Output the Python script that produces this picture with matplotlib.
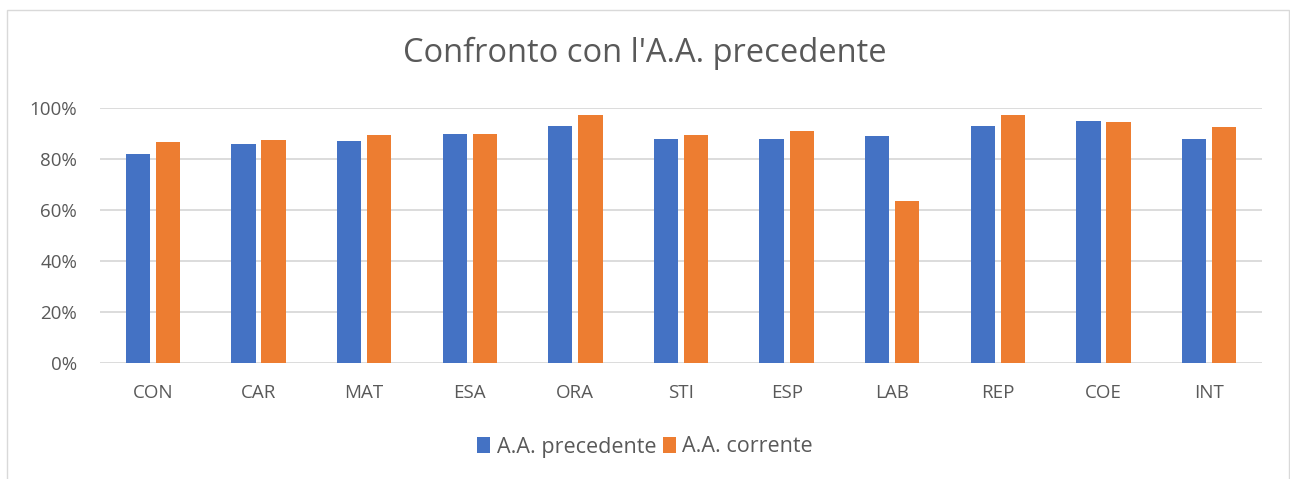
import matplotlib
matplotlib.use("Agg")
import matplotlib.pyplot as plt
import numpy as np
from matplotlib.patches import Rectangle
from matplotlib.ticker import PercentFormatter

categories = ["CON", "CAR", "MAT", "ESA", "ORA", "STI", "ESP", "LAB", "REP", "COE", "INT"]
prev_year = [0.82, 0.86, 0.87, 0.90, 0.93, 0.88, 0.88, 0.89, 0.93, 0.95, 0.88]
curr_year = [0.865, 0.876, 0.894, 0.898, 0.971, 0.894, 0.908, 0.634, 0.973, 0.944, 0.924]
series_names = ["A.A. precedente", "A.A. corrente"]
yticks = [0, 0.2, 0.4, 0.6, 0.8, 1.0]

plt.rcParams['font.family'] = ['Open Sans', 'DejaVu Sans']
text_color = "#595959"
blue = "#4472C4"
orange = "#ED7D31"

fig = plt.figure(figsize=(12.9, 4.79), dpi=100)
fig.patches.append(Rectangle((7/1290, -0.1), (1289-7)/1290, 1 - 10/479 + 0.1,
                             transform=fig.transFigure, fill=False,
                             edgecolor="#d9d9d9", linewidth=1.0))
ax = fig.add_axes([100/1290, 1 - 363/479, (1262-100)/1290, (363-108)/479])

x = np.arange(len(categories))
w = 0.23
gap = 0.055
ax.bar(x - (w + gap)/2, prev_year, width=w, color=blue, label=series_names[0], zorder=3)
ax.bar(x + (w + gap)/2, curr_year, width=w, color=orange, label=series_names[1], zorder=3)

ax.set_xlim(-0.5, len(categories) - 0.5)
ax.set_ylim(0, 1.0)
ax.set_yticks(yticks)
ax.yaxis.set_major_formatter(PercentFormatter(1.0, decimals=0))
ax.set_xticks(x)
ax.set_xticklabels(categories)
ax.grid(axis='y', color="#d9d9d9", linewidth=1.3, zorder=0)
ax.set_axisbelow(True)
for s in ax.spines.values():
    s.set_visible(False)
ax.tick_params(axis='both', length=0, labelsize=13.5, labelcolor=text_color)
ax.tick_params(axis='x', pad=15)
ax.tick_params(axis='y', pad=16.5)

fig.text(0.5, 1 - 53/479, "Confronto con l'A.A. precedente", ha='center', va='center',
         fontsize=23.5, color=text_color)

fig.legend(loc='center', bbox_to_anchor=(0.5, 1 - 447/479), ncol=2, frameon=False,
           fontsize=15.5, labelcolor=text_color, handlelength=0.6, handleheight=0.7,
           handletextpad=0.3, columnspacing=0.3)

fig.savefig("out.png", dpi=100)
